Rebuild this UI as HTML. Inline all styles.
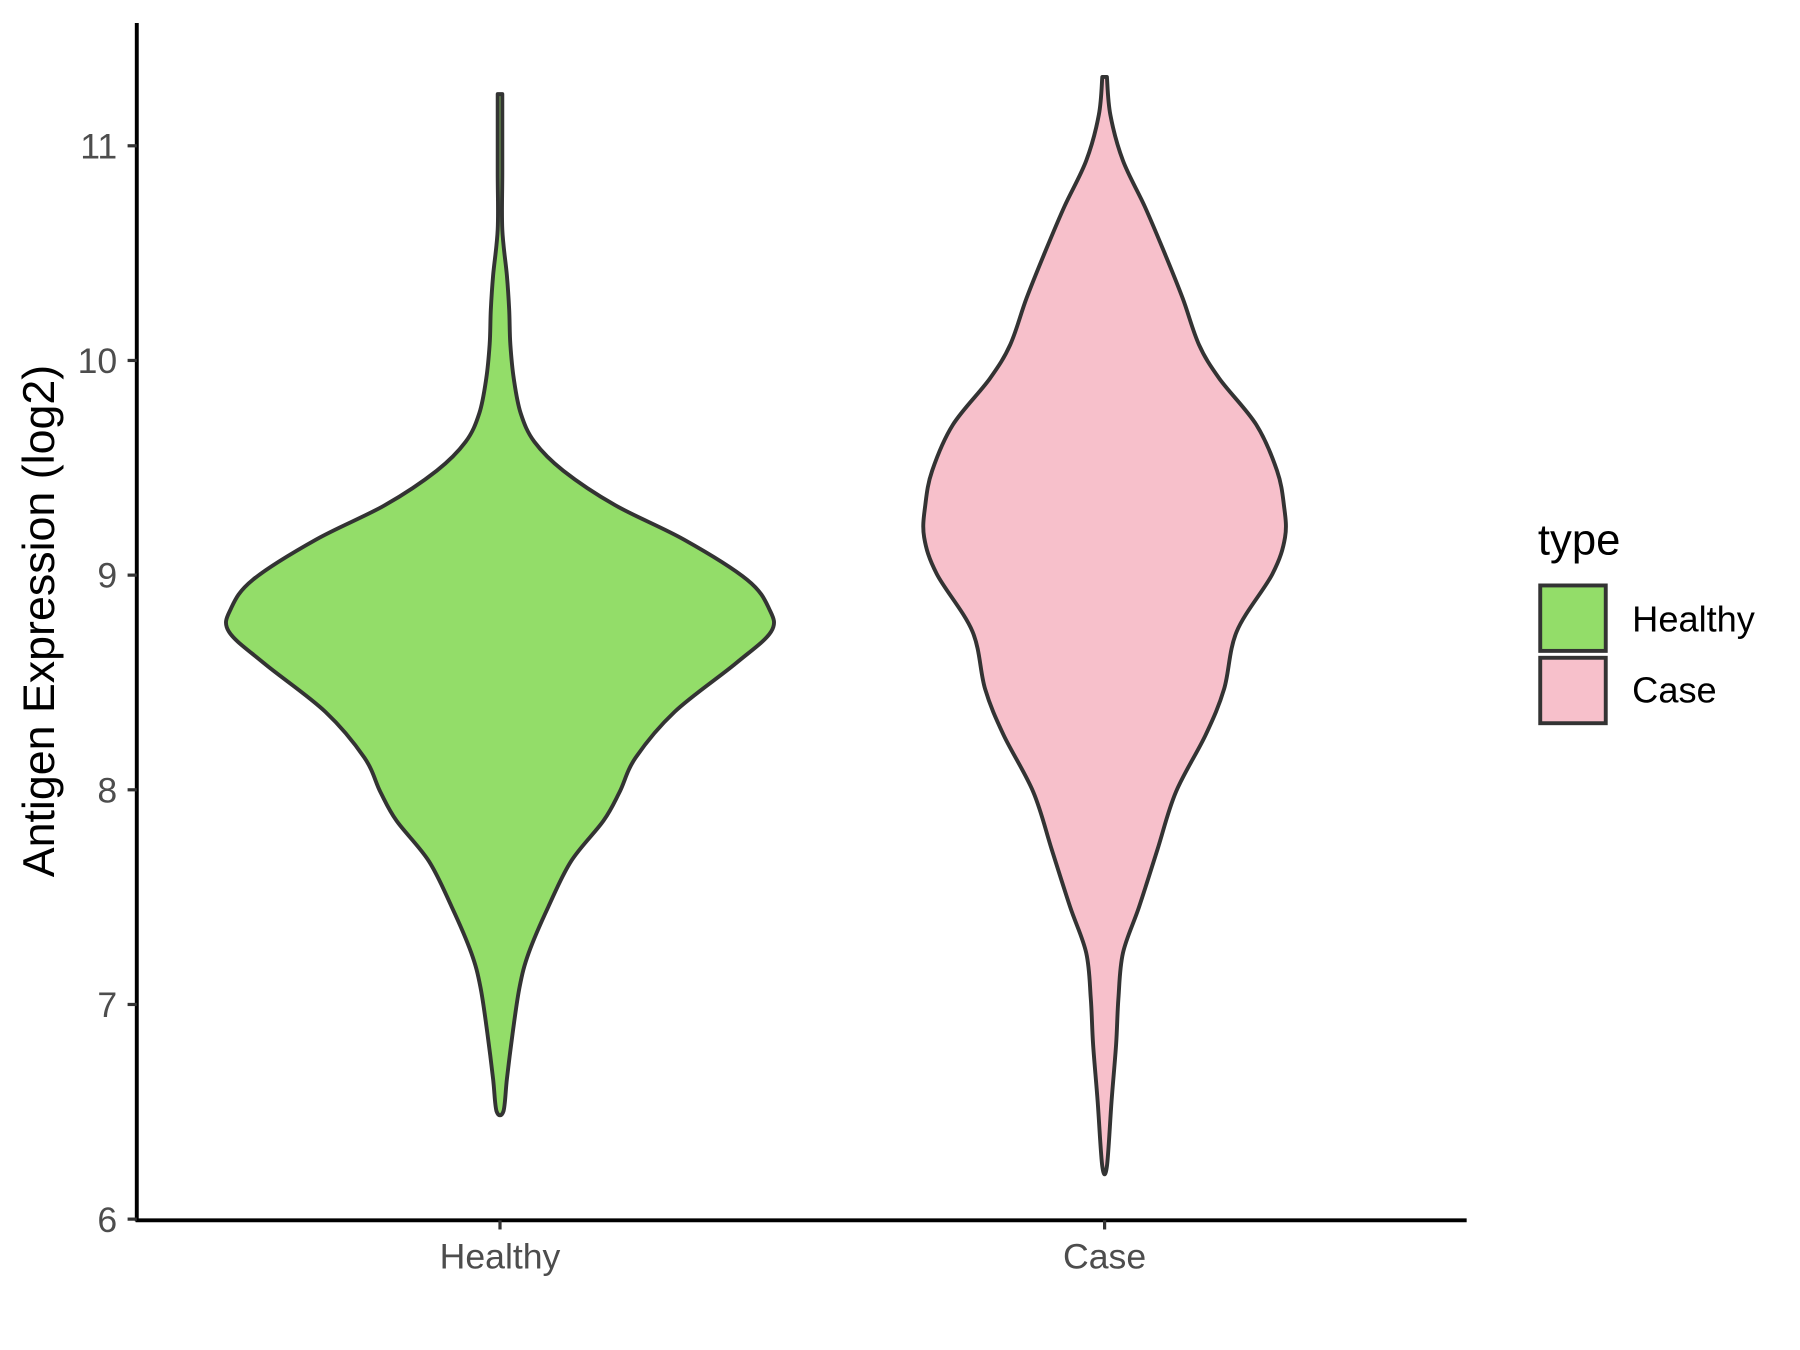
<!DOCTYPE html>
<html><head><meta charset="utf-8"><style>
html,body{margin:0;padding:0;background:#fff;width:1800px;height:1350px;overflow:hidden}
svg{display:block}
text{font-family:"Liberation Sans",Arial,sans-serif}
</style></head><body>
<svg id="s" width="1800" height="1350" viewBox="0 0 1566 1176" preserveAspectRatio="none" xmlns="http://www.w3.org/2000/svg">
<path id="h" fill="#93dd69" stroke="#333" stroke-width="3.4" stroke-linejoin="round"/>
<path id="c" fill="#f7c0cb" stroke="#333" stroke-width="3.4" stroke-linejoin="round"/>
<line x1="119" y1="20" x2="119" y2="1064" stroke="#000" stroke-width="3.4"/>
<line x1="118" y1="1063" x2="1276" y2="1063" stroke="#000" stroke-width="3.4"/>
<g stroke="#333" stroke-width="2.8">
<line x1="111" y1="1062" x2="119" y2="1062"/><line x1="111" y1="875" x2="119" y2="875"/>
<line x1="111" y1="688" x2="119" y2="688"/><line x1="111" y1="501" x2="119" y2="501"/>
<line x1="111" y1="314" x2="119" y2="314"/><line x1="111" y1="127" x2="119" y2="127"/>
<line x1="435" y1="1063" x2="435" y2="1071"/><line x1="961" y1="1063" x2="961" y2="1071"/>
</g>
<g fill="#4d4d4d" font-size="31" text-anchor="end">
<text x="102" y="1073">6</text><text x="102" y="886">7</text><text x="102" y="699">8</text>
<text x="102" y="512">9</text><text x="102" y="325">10</text><text x="102" y="138">11</text>
</g>
<g fill="#4d4d4d" font-size="31" text-anchor="middle">
<text x="435" y="1105">Healthy</text><text x="961" y="1105">Case</text>
</g>
<text transform="translate(47,541) rotate(-90)" font-size="39" text-anchor="middle" fill="#000">Antigen Expression (log2)</text>
<text x="1338" y="483" font-size="38" fill="#000">type</text>
<rect x="1340" y="510" width="57" height="57" fill="#93dd69" stroke="#333" stroke-width="3.4"/>
<rect x="1340" y="573" width="57" height="57" fill="#f7c0cb" stroke="#333" stroke-width="3.4"/>
<text x="1420" y="550" font-size="31.5" fill="#000">Healthy</text>
<text x="1420" y="612" font-size="31.5" fill="#000">Case</text>
</svg>
<script>
function build(cx,pts){
 var L=[],R=[];
 pts.forEach(function(p){R.push([cx+p[1],p[0]]);});
 for(var i=pts.length-1;i>=0;i--)L.push([cx-pts[i][1],pts[i][0]]);
 var all=R.concat(L);
 var d="M"+all[0][0]+","+all[0][1];
 for(var i=0;i<all.length-1;i++){
  var p0=all[Math.max(i-1,0)],p1=all[i],p2=all[i+1],p3=all[Math.min(i+2,all.length-1)];
  var c1=[p1[0]+(p2[0]-p0[0])/6,p1[1]+(p2[1]-p0[1])/6];
  var c2=[p2[0]-(p3[0]-p1[0])/6,p2[1]-(p3[1]-p1[1])/6];
  d+=" C"+c1[0].toFixed(1)+","+c1[1].toFixed(1)+" "+c2[0].toFixed(1)+","+c2[1].toFixed(1)+" "+p2[0].toFixed(1)+","+p2[1].toFixed(1);
 }
 return d+"Z";
}
var H=[[82,2],[150,2],[200,2],[240,6],[270,8],[300,9],[330,12],[360,18],[385,30],[410,55],[440,100],[470,160],[505,215],[530,234],[550,236],[578,205],[620,152],[660,118],[690,104],[715,90],[750,62],[790,42],[830,25],[860,17],[900,11],[940,6],[968,3]];
var C=[[67,2],[100,5],[140,16],[180,35],[220,52],[260,68],[300,82],[330,100],[370,132],[410,150],[440,156],[468,157],[500,146],[550,115],[600,104],[640,88],[690,62],[740,46],[790,30],[830,16],[870,12],[910,10],[960,6],[1016,2]];
document.getElementById('h').setAttribute('d',build(435,H));
document.getElementById('c').setAttribute('d',build(961,C));
</script>
</body></html>
